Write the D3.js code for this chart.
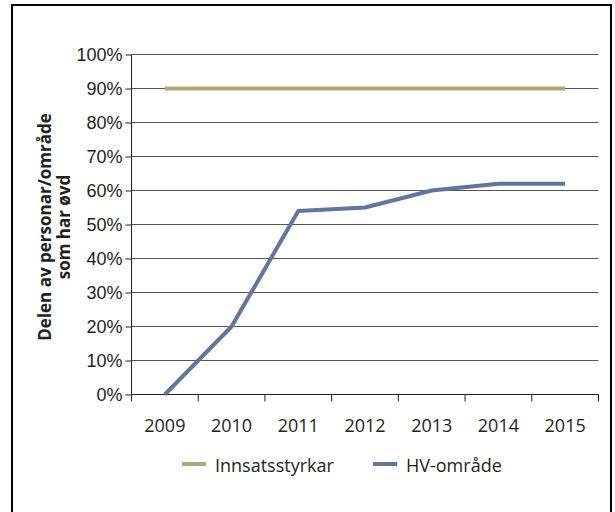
<!DOCTYPE html>
<html>
<head>
<meta charset="utf-8">
<script src="https://cdn.jsdelivr.net/npm/d3@7"></script>
<style>
  body { margin: 0; background: #fff; }
  svg { display: block; font-family: "Open Sans", sans-serif; }
</style>
</head>
<body>
<script>
const width = 615;
const height = 512;

const years = ["2009", "2010", "2011", "2012", "2013", "2014", "2015"];
const innsatsstyrkar = [0.9, 0.9, 0.9, 0.9, 0.9, 0.9, 0.9];
const hvOmrade = [0.0, 0.2, 0.54, 0.55, 0.6, 0.62, 0.62];
const yTicks = [0, 0.1, 0.2, 0.3, 0.4, 0.5, 0.6, 0.7, 0.8, 0.9, 1.0];
const seriesNames = ["Innsatsstyrkar", "HV-område"];
const seriesColors = ["#abaa7a", "#62759c"];
const titleLines = ["Delen av personar/område", "som har øvd"];

const svg = d3.select("body")
  .append("svg")
  .attr("width", width)
  .attr("height", height);

// outer frame (bottom edge is outside the picture)
svg.append("path")
  .attr("d", "M12,515 V5 H611 V515")
  .attr("fill", "none")
  .attr("stroke", "#000")
  .attr("stroke-width", 2);

const x = d3.scaleBand().domain(years).range([131.5, 598.5]);
const y = d3.scaleLinear().domain([0, 1]).range([394.5, 54.5]);

// horizontal grid
svg.append("g")
  .selectAll("line")
  .data(yTicks.slice(1))
  .join("line")
  .attr("x1", 131.5)
  .attr("x2", 598.5)
  .attr("y1", d => y(d))
  .attr("y2", d => y(d))
  .attr("stroke", "#555")
  .attr("stroke-width", 1);

// y axis
const yAxis = svg.append("g")
  .attr("transform", "translate(131.5,0)")
  .call(d3.axisLeft(y).tickValues(yTicks).tickFormat(d3.format(".0%")).tickSize(6).tickPadding(3));
yAxis.select(".domain").attr("stroke", "#222").attr("d", "M0," + y(0) + "V" + y(1));
yAxis.selectAll(".tick line").attr("stroke", "#222");
yAxis.selectAll("text").attr("font-size", 18).attr("fill", "#231f20");

// x axis with ticks between categories
const xAxis = svg.append("g")
  .attr("transform", "translate(0,394.5)");
xAxis.append("line")
  .attr("x1", 131.5).attr("x2", 598.5)
  .attr("stroke", "#222");
xAxis.selectAll("line.tk")
  .data(years.concat(["end"]))
  .join("line")
  .attr("class", "tk")
  .attr("x1", (d, i) => i < years.length ? x(d) : x.range()[1])
  .attr("x2", (d, i) => i < years.length ? x(d) : x.range()[1])
  .attr("y1", 0).attr("y2", 7)
  .attr("stroke", "#222");
xAxis.selectAll("text")
  .data(years)
  .join("text")
  .attr("x", d => x(d) + x.bandwidth() / 2)
  .attr("y", 37)
  .attr("text-anchor", "middle")
  .attr("font-size", 18)
  .attr("fill", "#231f20")
  .text(d => d);

// y title, two centred lines
svg.append("g")
  .selectAll("text")
  .data(titleLines)
  .join("text")
  .attr("transform", (d, i) => "translate(" + (51 + i * 19) + ",227) rotate(-90)")
  .attr("text-anchor", "middle")
  .attr("font-size", 17)
  .attr("font-weight", "bold")
  .attr("fill", "#231f20")
  .text(d => d);

// lines
const line = d3.line()
  .x((d, i) => x(years[i]) + x.bandwidth() / 2)
  .y(d => y(d));

[innsatsstyrkar, hvOmrade].forEach((values, k) => {
  svg.append("path")
    .datum(values)
    .attr("d", line)
    .attr("fill", "none")
    .attr("stroke", seriesColors[k])
    .attr("stroke-width", 4)
    .attr("stroke-linejoin", "round");
});

// legend
const legendX = [182, 373];
const legend = svg.append("g");
seriesNames.forEach((name, k) => {
  legend.append("line")
    .attr("x1", legendX[k]).attr("x2", legendX[k] + 24)
    .attr("y1", 464).attr("y2", 464)
    .attr("stroke", seriesColors[k])
    .attr("stroke-width", 4);
  legend.append("text")
    .attr("x", legendX[k] + 33)
    .attr("y", 472)
    .attr("font-size", 18)
    .attr("fill", "#231f20")
    .text(name);
});
</script>
</body>
</html>
